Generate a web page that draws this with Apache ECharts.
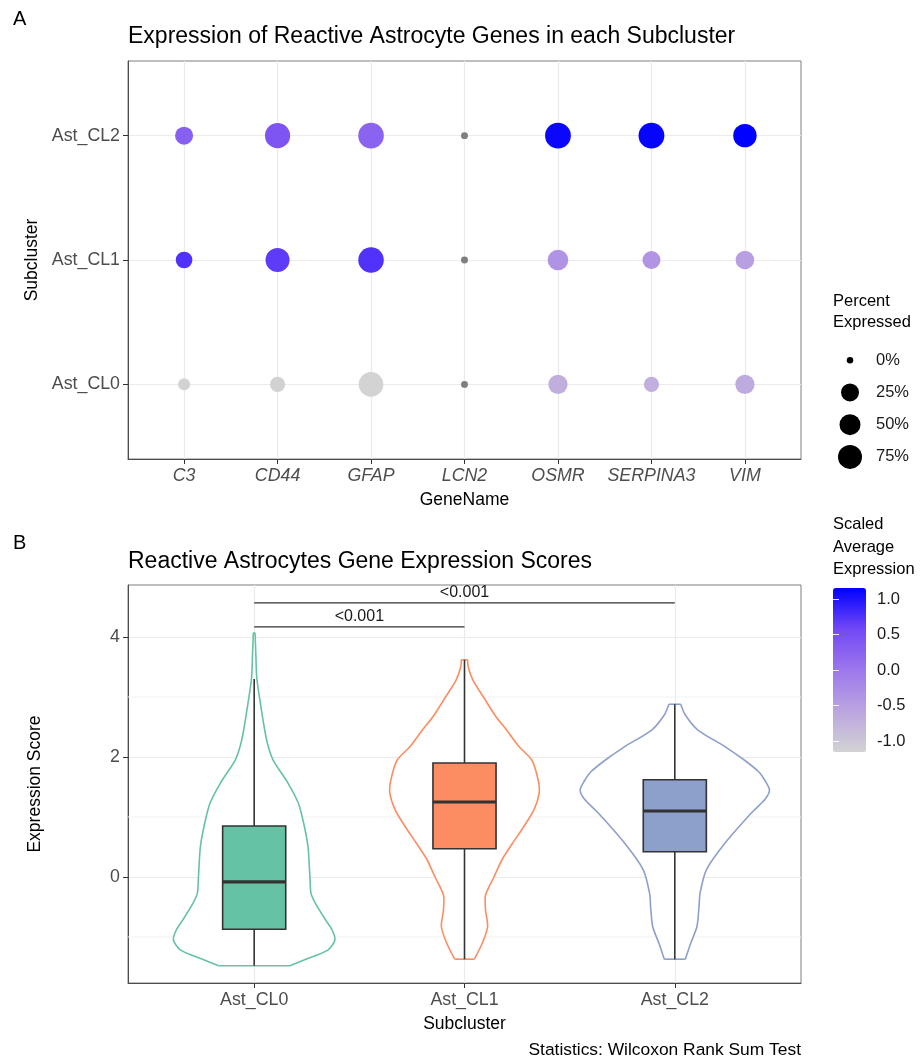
<!DOCTYPE html>
<html><head><meta charset="utf-8">
<script src="https://cdn.jsdelivr.net/npm/echarts@6/dist/echarts.min.js"></script>
<style>html,body{margin:0;padding:0;background:#fff}#c{width:922px;height:1061px}</style>
</head><body><div id="c"></div><script>
// ---------- Panel A data ----------
const genes = ['C3','CD44','GFAP','LCN2','OSMR','SERPINA3','VIM'];
const subclusters = ['Ast_CL0','Ast_CL1','Ast_CL2'];
// percent expressed
const pctCL0 = [12, 19, 80, 1, 35, 19, 35];
const pctCL1 = [22, 75, 88, 1, 47, 25, 30];
const pctCL2 = [25, 85, 88, 1, 90, 90, 70];
// scaled average expression (null = not available)
const scaledCL0 = [-1.14, -1.14, -1.15, null, -0.7, -0.72, -0.65];
const scaledCL1 = [0.75, 0.68, 0.75, null, -0.35, -0.38, -0.5];
const scaledCL2 = [0.3, 0.42, 0.25, null, 1.1, 1.12, 1.15];
const pctBreaks = [0, 25, 50, 75];
const pctBreakLabels = ['0%','25%','50%','75%'];
const pctBreakDiam = [6.5, 18, 21, 24];
const colorTicks = [-1, -0.5, 0, 0.5, 1];
const colorLimit = 1.1547;

// ---------- Panel B data ----------
const groups = ['Ast_CL0','Ast_CL1','Ast_CL2'];
const groupColors = ['#66C2A5','#FC8D62','#8DA0CB'];
// violin profiles: [score, half width]
const violinCL0 = [[-1.48,0.17],[-1.38,0.24],[-1.22,0.35],[-1.05,0.384],[-0.88,0.37],[-0.72,0.34],[-0.43,0.29],[-0.27,0.27],[0.0,0.265],[0.5,0.256],[0.9,0.235],[1.23,0.21],[1.57,0.16],[1.95,0.09],[2.2,0.065],[2.45,0.05],[3.0,0.025],[3.33,0.012],[3.7,0.008],[4.07,0.004]];
const violinCL1 = [[-1.37,0.047],[-1.1,0.085],[-0.83,0.11],[-0.55,0.1],[-0.3,0.1],[0.0,0.14],[0.3,0.18],[0.57,0.23],[0.83,0.28],[1.12,0.33],[1.4,0.355],[1.62,0.35],[1.95,0.32],[2.17,0.26],[2.45,0.2],[2.67,0.15],[3.0,0.09],[3.28,0.04],[3.5,0.018],[3.62,0.015]];
const violinCL2 = [[-1.37,0.05],[-1.1,0.076],[-0.83,0.105],[-0.5,0.115],[-0.27,0.12],[0.12,0.15],[0.57,0.24],[1.07,0.365],[1.3,0.43],[1.45,0.45],[1.6,0.43],[1.75,0.4],[1.95,0.33],[2.17,0.24],[2.45,0.11],[2.7,0.05],[2.88,0.028]];
// box stats: [lower whisker, Q1, median, Q3, upper whisker]
const boxCL0 = [-1.48, -0.87, -0.08, 0.85, 3.3];
const boxCL1 = [-1.37, 0.47, 1.25, 1.9, 3.62];
const boxCL2 = [-1.37, 0.42, 1.1, 1.62, 2.88];
const yTicksB = [0, 2, 4];
const yMinorB = [-1, 1, 3];
// comparisons: [group a, group b, bracket height, label]
const comparisons = [[0, 1, 4.17, '<0.001'], [0, 2, 4.57, '<0.001']];

const FONT = "'Liberation Sans', Arial, Helvetica, sans-serif";
const violins = [violinCL0, violinCL1, violinCL2];
const boxes = [boxCL0, boxCL1, boxCL2];
const pctRows = [pctCL0, pctCL1, pctCL2];
const scaledRows = [scaledCL0, scaledCL1, scaledCL2];

function pctToSize(p){
  const b = pctBreaks, d = pctBreakDiam;
  if (p <= b[0]) return d[0];
  for (let i = 1; i < b.length; i++) {
    if (p <= b[i]) return d[i-1] + (d[i]-d[i-1]) * (p-b[i-1]) / (b[i]-b[i-1]);
  }
  const n = b.length - 1;
  return d[n] + (d[n]-d[n-1]) * (p-b[n]) / (b[n]-b[n-1]);
}

const dotData = [], naData = [];
subclusters.forEach((c, ci) => genes.forEach((g, gi) => {
  const s = scaledRows[ci][gi];
  if (s === null) naData.push([gi, ci, pctRows[ci][gi]]);
  else dotData.push([gi, ci, pctRows[ci][gi], s]);
}));

const geneIdx = genes.map((_, i) => i);
const clIdx = subclusters.map((_, i) => i);
const grpIdx = groups.map((_, i) => i);

const TICKFS = 17.8;
const axisLbl = {color:'#4d4d4d', fontSize:TICKFS, fontFamily:FONT};
const axisLn = {show:true, onZero:false, lineStyle:{color:'#4d4d4d', width:1}};
const tick = (vals) => ({show:true, customValues:vals, length:5, lineStyle:{color:'#333', width:1}});
const split = {show:true, lineStyle:{color:'#ebebeb', width:1.2}};
const nameStyle = {color:'#000', fontSize:17.5, fontFamily:FONT};

const chart = echarts.init(document.getElementById('c'), null, {renderer:'canvas'});
const option = {
  animation:false,
  backgroundColor:'#fff',
  textStyle:{fontFamily:FONT},
  grid:[
    {left:128, top:61, width:673, height:398, show:true, borderColor:'#7f7f7f', borderWidth:1, backgroundColor:'#fff'},
    {left:128, top:585, width:673, height:398, show:true, borderColor:'#7f7f7f', borderWidth:1, backgroundColor:'#fff'},
    {left:835, top:344, width:30, height:129},
    {left:833, top:588, width:33, height:164}
  ],
  xAxis:[
    {gridIndex:0, type:'value', min:-0.6, max:6.6, name:'GeneName', nameLocation:'middle', nameGap:32,
     nameTextStyle:nameStyle,
     axisLine:axisLn, axisTick:tick(geneIdx),
     axisLabel:Object.assign({customValues:geneIdx, formatter:v=>genes[Math.round(v)], fontStyle:'italic', margin:8}, axisLbl),
     splitLine:split},
    {gridIndex:1, type:'value', min:-0.6, max:2.6, name:'Subcluster', nameLocation:'middle', nameGap:32,
     nameTextStyle:nameStyle,
     axisLine:axisLn, axisTick:tick(grpIdx),
     axisLabel:Object.assign({customValues:grpIdx, formatter:v=>groups[Math.round(v)], margin:8}, axisLbl),
     splitLine:split},
    {gridIndex:2, type:'category', data:['x'], show:false},
    {gridIndex:3, type:'value', min:0, max:1, show:false}
  ],
  yAxis:[
    {gridIndex:0, type:'value', min:-0.6, max:2.6, name:'Subcluster', nameLocation:'middle', nameGap:84,
     nameTextStyle:nameStyle,
     axisLine:axisLn, axisTick:tick(clIdx),
     axisLabel:Object.assign({customValues:clIdx, formatter:v=>subclusters[Math.round(v)], margin:8}, axisLbl),
     splitLine:split},
    {gridIndex:1, type:'value', min:-1.767, max:4.867, name:'Expression Score', nameLocation:'middle', nameGap:84,
     nameTextStyle:nameStyle,
     axisLine:axisLn, axisTick:tick(yTicksB),
     axisLabel:Object.assign({customValues:yTicksB, formatter:v=>String(Math.round(v)), margin:8}, axisLbl),
     splitLine:split},
    {gridIndex:2, type:'category', data:pctBreakLabels, inverse:true, position:'right',
     axisLine:{show:false}, axisTick:{show:false},
     axisLabel:{color:'#1a1a1a', fontSize:16.5, fontFamily:FONT, margin:11}},
    {gridIndex:3, type:'value', min:-colorLimit, max:colorLimit, position:'right', z:10,
     axisLine:{show:false}, splitLine:{show:false},
     axisTick:{show:true, inside:true, customValues:colorTicks, length:6, lineStyle:{color:'rgba(255,255,255,0.85)', width:1}},
     axisLabel:{customValues:colorTicks, formatter:v=>v.toFixed(1), color:'#1a1a1a', fontSize:16.5, fontFamily:FONT, margin:11}},
    {gridIndex:3, type:'value', min:-colorLimit, max:colorLimit, position:'left', z:10,
     axisLine:{show:false}, splitLine:{show:false}, axisLabel:{show:false},
     axisTick:{show:true, inside:true, customValues:colorTicks, length:6, lineStyle:{color:'rgba(255,255,255,0.85)', width:1}}}
  ],
  visualMap:[{
    type:'continuous', min:-colorLimit, max:colorLimit, dimension:3, seriesIndex:0,
    inRange:{color:['#D3D3D3','#BBA5E0','#9D77EC','#7248F6','#0000FF']},
    left:833, top:588, itemWidth:33, itemHeight:164, padding:0, calculable:false,
    text:null, orient:'vertical', z:2, hoverLink:false
  }],
  series:[
    {type:'scatter', xAxisIndex:0, yAxisIndex:0, data:dotData, symbolSize:v=>pctToSize(v[2]),
     itemStyle:{opacity:1}, silent:true, z:5},
    {type:'scatter', xAxisIndex:0, yAxisIndex:0, data:naData, symbolSize:v=>pctToSize(v[2]),
     itemStyle:{color:'#7F7F7F', opacity:1}, silent:true, z:5},
    {type:'scatter', xAxisIndex:2, yAxisIndex:2, data:pctBreaks.map((p,i)=>[0,i,p]), symbolSize:v=>pctToSize(v[2]),
     itemStyle:{color:'#000', opacity:1}, silent:true},
    // minor grid lines in panel B
    {type:'custom', xAxisIndex:1, yAxisIndex:1, data:yMinorB.map(v=>[v]), silent:true, z:1, clip:false,
     renderItem:(params, api)=>{
       const v = api.value(0);
       const p1 = api.coord([-0.6, v]), p2 = api.coord([2.6, v]);
       return {type:'line', shape:{x1:p1[0], y1:p1[1], x2:p2[0], y2:p2[1]}, style:{stroke:'#f3f3f3', lineWidth:1}};
     }},
    // violins
    {type:'custom', xAxisIndex:1, yAxisIndex:1, data:grpIdx.map(g=>[g]), silent:true, z:2, clip:false,
     renderItem:(params, api)=>{
       const g = api.value(0);
       const prof = violins[g];
       const right = prof.map(([y,w]) => api.coord([g + w, y]));
       const left = prof.map(([y,w]) => api.coord([g - w, y]));
       const n = prof.length - 1;
       const col = groupColors[g];
       const ls = {stroke:col, lineWidth:1.6, fill:null};
       return {type:'group', children:[
         {type:'polygon', shape:{points:right.concat(left.slice().reverse()), smooth:0.2}, style:{fill:'#fff', stroke:null}},
         {type:'polyline', shape:{points:right, smooth:0.25}, style:ls},
         {type:'polyline', shape:{points:left, smooth:0.25}, style:ls},
         {type:'line', shape:{x1:left[0][0], y1:left[0][1], x2:right[0][0], y2:right[0][1]}, style:ls},
         {type:'line', shape:{x1:left[n][0], y1:left[n][1], x2:right[n][0], y2:right[n][1]}, style:ls}
       ]};
     }},
    // boxes
    {type:'custom', xAxisIndex:1, yAxisIndex:1, data:grpIdx.map(g=>[g]), silent:true, z:3, clip:false,
     renderItem:(params, api)=>{
       const g = api.value(0);
       const [lo, q1, med, q3, hi] = boxes[g];
       const bw = 0.15;
       const a = api.coord([g, lo]), b = api.coord([g, q1]), c = api.coord([g, q3]), d = api.coord([g, hi]);
       const tl = api.coord([g - bw, q3]), br = api.coord([g + bw, q1]);
       const m1 = api.coord([g - bw, med]), m2 = api.coord([g + bw, med]);
       const st = {stroke:'#333', lineWidth:1.6};
       return {type:'group', children:[
         {type:'line', shape:{x1:a[0], y1:a[1], x2:b[0], y2:b[1]}, style:st},
         {type:'line', shape:{x1:c[0], y1:c[1], x2:d[0], y2:d[1]}, style:st},
         {type:'rect', shape:{x:tl[0], y:tl[1], width:br[0]-tl[0], height:br[1]-tl[1]}, style:{fill:groupColors[g], stroke:'#333', lineWidth:1.6}},
         {type:'line', shape:{x1:m1[0], y1:m1[1], x2:m2[0], y2:m2[1]}, style:{stroke:'#333', lineWidth:3.2}}
       ]};
     }},
    // significance brackets
    {type:'custom', xAxisIndex:1, yAxisIndex:1, data:comparisons, silent:true, z:4, clip:false,
     renderItem:(params, api)=>{
       const idx = params.dataIndex;
       const [ga, gb, h, lab] = comparisons[idx];
       const p1 = api.coord([ga, h]), p2 = api.coord([gb, h]);
       return {type:'group', children:[
         {type:'line', shape:{x1:p1[0], y1:p1[1], x2:p2[0], y2:p2[1]}, style:{stroke:'#333', lineWidth:1.2}},
         {type:'text', x:(p1[0]+p2[0])/2, y:p1[1]-2, style:{text:lab, fontSize:16, fontFamily:FONT, fill:'#1a1a1a', align:'center', verticalAlign:'bottom'}}
       ]};
     }}
  ],
  graphic:[
    {type:'text', x:13, y:19, style:{text:'A', fontSize:20, fontFamily:FONT, fill:'#000', align:'left', verticalAlign:'middle'}},
    {type:'text', x:13, y:543, style:{text:'B', fontSize:20, fontFamily:FONT, fill:'#000', align:'left', verticalAlign:'middle'}},
    {type:'text', x:128, y:37, style:{text:'Expression of Reactive Astrocyte Genes in each Subcluster', fontSize:23, fontFamily:FONT, fill:'#000', align:'left', verticalAlign:'middle'}},
    {type:'text', x:128, y:562, style:{text:'Reactive Astrocytes Gene Expression Scores', fontSize:23, fontFamily:FONT, fill:'#000', align:'left', verticalAlign:'middle'}},
    {type:'text', x:833, y:312, style:{text:'Percent\nExpressed', fontSize:16.5, lineHeight:21, fontFamily:FONT, fill:'#000', align:'left', verticalAlign:'middle'}},
    {type:'text', x:833, y:547, style:{text:'Scaled\nAverage\nExpression', fontSize:16.5, lineHeight:22.5, fontFamily:FONT, fill:'#000', align:'left', verticalAlign:'middle'}},
    {type:'text', x:801, y:1050, style:{text:'Statistics: Wilcoxon Rank Sum Test', fontSize:17.4, fontFamily:FONT, fill:'#000', align:'right', verticalAlign:'middle'}}
  ]
};
chart.setOption(option);
</script></body></html>
